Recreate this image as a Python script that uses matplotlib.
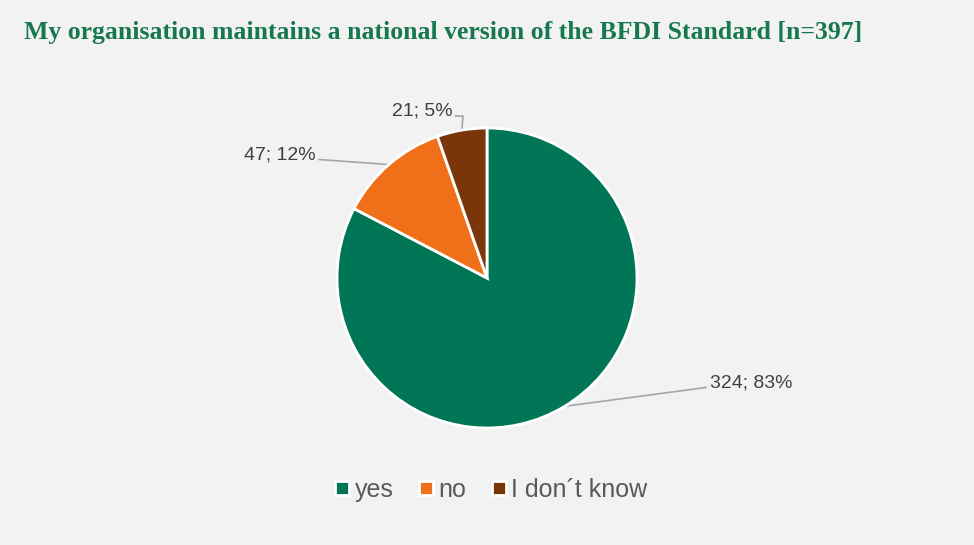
import matplotlib.pyplot as plt
import numpy as np
from matplotlib.lines import Line2D

# answers to the question, counts and shares
labels = ["yes", "no", "I don´t know"]
counts = [324, 47, 21]
shares = [83, 12, 5]
colors = ["#007656", "#f07019", "#7a3608"]

W, H = 974, 545
cx, cy, r = 487, 278, 150  # pie centre and radius in pixels

fig = plt.figure(figsize=(W / 100, H / 100), dpi=100, facecolor="#f2f2f2")
ax = fig.add_axes([0, 0, 1, 1])
ax.set_facecolor("#f2f2f2")

wedges, _ = ax.pie(counts, colors=colors, startangle=90, counterclock=False,
                   radius=1, wedgeprops=dict(edgecolor="white", linewidth=2))
ax.set_xlim(-cx / r, (W - cx) / r)
ax.set_ylim(-(H - cy) / r, cy / r)
ax.set_aspect("equal")
ax.axis("off")

# label text positions (right/left anchor, y) and an optional elbow
text_pos = [(1.49, -0.70, "left"), (-1.14, 0.82, "right"), (-0.23, 1.11, "right")]
for w, c, s, (tx, ty, ha) in zip(wedges, counts, shares, text_pos):
    mid = np.deg2rad((w.theta1 + w.theta2) / 2)
    ex, ey = np.cos(mid), np.sin(mid)
    lx = tx - 0.03 if ha == "left" else tx + 0.02
    if ha == "right" and abs(tx - ex) < 0.15:
        xs, ys = [lx, lx + 0.05, ex], [ty - 0.03, ty - 0.03, ey]
    else:
        xs, ys = [lx, ex], [ty - 0.03, ey]
    ax.plot(xs, ys, color="#a6a6a6", lw=1.2, zorder=0)
    ax.text(tx, ty, f"{c}; {s}%", ha=ha, va="center", fontsize=14,
            family="Liberation Sans", color="#404040")

fig.text(24 / W, 1 - 32 / H,
         "My organisation maintains a national version of the BFDI Standard [n=397]",
         ha="left", va="center", fontsize=18.5, fontweight="bold",
         family="Liberation Serif", color="#17784f")

handles = [Line2D([], [], marker="s", ls="", markersize=10, markerfacecolor=c,
                  markeredgecolor="white", markeredgewidth=2) for c in colors]
fig.legend(handles, labels, loc="center", bbox_to_anchor=(491 / W, 1 - 490 / H),
           ncol=3, frameon=False, handletextpad=0.2, columnspacing=1.0,
           handlelength=0.6,
           prop=dict(family="Liberation Sans", size=18), labelcolor="#595959")

fig.savefig("out.png", dpi=100, facecolor=fig.get_facecolor())
